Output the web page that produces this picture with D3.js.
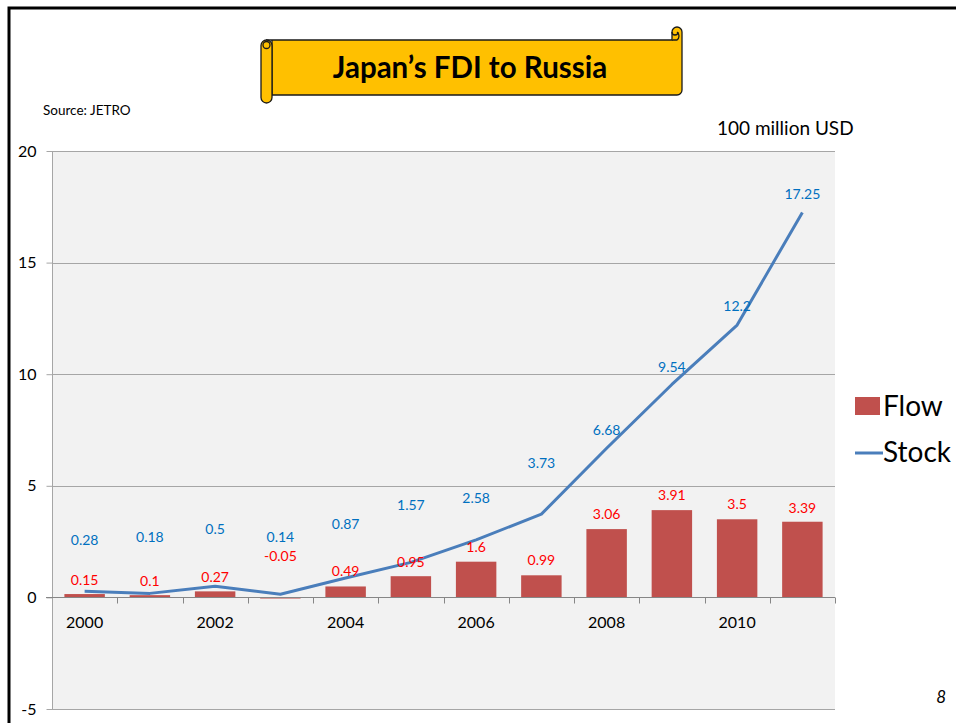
<!DOCTYPE html>
<html>
<head>
<meta charset="utf-8">
<script src="https://cdn.jsdelivr.net/npm/d3@7/dist/d3.min.js"></script>
<style>
  html, body { margin: 0; padding: 0; background: #fff; }
  svg { display: block; font-family: Lato, "Open Sans", sans-serif; }
</style>
</head>
<body>
<div id="chart"></div>
<script>
// data (100 million USD)
const years = [2000, 2001, 2002, 2003, 2004, 2005, 2006, 2007, 2008, 2009, 2010, 2011];
const flow = [0.15, 0.1, 0.27, -0.05, 0.49, 0.95, 1.6, 0.99, 3.06, 3.91, 3.5, 3.39];
const stock = [0.28, 0.18, 0.5, 0.14, 0.87, 1.57, 2.58, 3.73, 6.68, 9.54, 12.2, 17.25];
const yTicks = [-5, 0, 5, 10, 15, 20];
const seriesNames = ['Flow', 'Stock'];

// how far (px) each data label sits above its mark, as placed on the slide
const stockLift = [51, 56, 57, 57, 54, 57, 42, 51, 18, 17, 19, 18];
const flowLift = [14, 14, 14, 41, 15, 14, 15, 15, 15, 15, 15, 14];

const W = 956, H = 723;
const plot = { left: 52, right: 835, top: 151, bottom: 709 };

const svg = d3.select('#chart')
              .append('svg')
              .attr('width', W)
              .attr('height', H);

// slide frame
svg.append('path')
   .attr('d', `M9,${H} V8 H${W}`)
   .attr('fill', 'none')
   .attr('stroke', '#000')
   .attr('stroke-width', 3);

const x = d3.scaleBand()
            .domain(years)
            .range([plot.left, plot.right])
            .paddingInner(0.38)
            .paddingOuter(0.19);

const xEdge = d3.scaleLinear()
                .domain([0, years.length])
                .range([plot.left, plot.right]);

const y = d3.scaleLinear()
            .domain([-5, 20])
            .range([plot.bottom, plot.top]);

// plot background
svg.append('rect')
   .attr('x', plot.left)
   .attr('y', plot.top)
   .attr('width', plot.right - plot.left)
   .attr('height', plot.bottom - plot.top)
   .attr('fill', '#f2f2f2');

// gridlines
svg.append('g')
   .selectAll('line')
   .data(yTicks.filter(d => d !== 0))
   .enter()
   .append('line')
   .attr('x1', plot.left)
   .attr('x2', plot.right)
   .attr('y1', d => Math.round(y(d)) + 0.5)
   .attr('y2', d => Math.round(y(d)) + 0.5)
   .attr('stroke', '#a6a6a6')
   .attr('stroke-width', 1);

// y axis
const yAxis = svg.append('g')
                 .attr('transform', `translate(${plot.left + 0.5},0)`)
                 .call(d3.axisLeft(y).tickValues(yTicks).tickSize(6).tickPadding(10).tickFormat(d => String(d)));
yAxis.select('.domain').attr('stroke', '#a6a6a6').attr('d', `M-0,${plot.top}V${plot.bottom}`);
yAxis.selectAll('.tick line').attr('stroke', '#a6a6a6');
yAxis.selectAll('.tick text')
     .attr('font-size', 16)
     .attr('font-family', 'Lato, sans-serif')
     .attr('fill', '#000');

// bars
svg.append('g')
   .selectAll('rect')
   .data(flow)
   .enter()
   .append('rect')
   .attr('x', (d, i) => x(years[i]))
   .attr('y', d => y(Math.max(0, d)))
   .attr('width', x.bandwidth())
   .attr('height', d => Math.abs(y(d) - y(0)))
   .attr('fill', '#c0504d');

// zero axis with category ticks
const y0 = Math.round(y(0)) + 0.5;
svg.append('line')
   .attr('x1', plot.left - 6)
   .attr('x2', plot.right)
   .attr('y1', y0)
   .attr('y2', y0)
   .attr('stroke', '#868686');

svg.append('g')
   .selectAll('line')
   .data(d3.range(1, years.length + 1))
   .enter()
   .append('line')
   .attr('x1', d => Math.round(xEdge(d)) + 0.5)
   .attr('x2', d => Math.round(xEdge(d)) + 0.5)
   .attr('y1', y0)
   .attr('y2', y0 + 6)
   .attr('stroke', '#868686');

// year labels, every other year
svg.append('g')
   .selectAll('text')
   .data(years.filter((d, i) => i % 2 === 0))
   .enter()
   .append('text')
   .attr('x', d => x(d) + x.bandwidth() / 2)
   .attr('y', y0 + 30)
   .attr('text-anchor', 'middle')
   .attr('font-size', 16)
   .text(d => d);

// stock line
const line = d3.line()
               .x((d, i) => x(years[i]) + x.bandwidth() / 2)
               .y(d => y(d));

svg.append('path')
   .datum(stock)
   .attr('d', line)
   .attr('fill', 'none')
   .attr('stroke', '#4a7ebb')
   .attr('stroke-width', 3)
   .attr('stroke-linejoin', 'round');

// data labels
svg.append('g')
   .selectAll('text')
   .data(flow)
   .enter()
   .append('text')
   .attr('x', (d, i) => x(years[i]) + x.bandwidth() / 2)
   .attr('y', (d, i) => y(Math.max(0, d)) - flowLift[i])
   .attr('dy', '0.35em')
   .attr('text-anchor', 'middle')
   .attr('font-size', 14)
   .attr('fill', '#ff0000')
   .text(d => d);

svg.append('g')
   .selectAll('text')
   .data(stock)
   .enter()
   .append('text')
   .attr('x', (d, i) => x(years[i]) + x.bandwidth() / 2)
   .attr('y', (d, i) => y(d) - stockLift[i])
   .attr('dy', '0.35em')
   .attr('text-anchor', 'middle')
   .attr('font-size', 14)
   .attr('fill', '#0070c0')
   .text(d => d);

// legend
const legend = svg.append('g').attr('transform', 'translate(855,0)');
legend.append('rect')
      .attr('x', 0).attr('y', 397)
      .attr('width', 25).attr('height', 18)
      .attr('fill', '#c0504d');
legend.append('line')
      .attr('x1', 0).attr('x2', 28)
      .attr('y1', 453).attr('y2', 453)
      .attr('stroke', '#4a7ebb')
      .attr('stroke-width', 3);
legend.selectAll('text.lg')
      .data(seriesNames)
      .enter()
      .append('text')
      .attr('class', 'lg')
      .attr('x', 28)
      .attr('y', (d, i) => 406 + i * 46)
      .attr('dy', '0.35em')
      .attr('font-size', 28)
      .text(d => d);

// unit + source
svg.append('text')
   .attr('x', 717).attr('y', 135)
   .attr('font-size', 19)
   .text('100 million USD');

svg.append('text')
   .attr('x', 43).attr('y', 115)
   .attr('font-size', 13.5)
   .text('Source: JETRO');

// page number
svg.append('text')
   .attr('x', 946).attr('y', 703)
   .attr('text-anchor', 'end')
   .attr('font-size', 17)
   .attr('font-style', 'italic')
   .text('8');

// title scroll
const banner = svg.append('g')
                  .attr('stroke', '#1a1a1a')
                  .attr('stroke-width', 1.3)
                  .attr('fill', '#ffc000');
banner.append('path')
      .attr('d', 'M266,40 H672 V32 a5,5 0 0 1 10,0 V90 a5,5 0 0 1 -5,5 H272 V40 Z');
banner.append('path')
      .attr('d', 'M672,40 H677 a5,5 0 0 0 0,-8');
banner.append('rect')
      .attr('x', 261).attr('y', 40)
      .attr('width', 11).attr('height', 63)
      .attr('rx', 5.5);
banner.append('circle')
      .attr('cx', 266.5).attr('cy', 45)
      .attr('r', 3.5)
      .attr('fill', 'none');
banner.append('path')
      .attr('d', 'M672,32 a3,3 0 0 0 6,0')
      .attr('fill', 'none');

svg.append('text')
   .attr('x', 470).attr('y', 68)
   .attr('dy', '0.35em')
   .attr('text-anchor', 'middle')
   .attr('font-size', 29.5)
   .attr('font-weight', 'bold')
   .text('Japan\u2019s FDI to Russia');
</script>
</body>
</html>
